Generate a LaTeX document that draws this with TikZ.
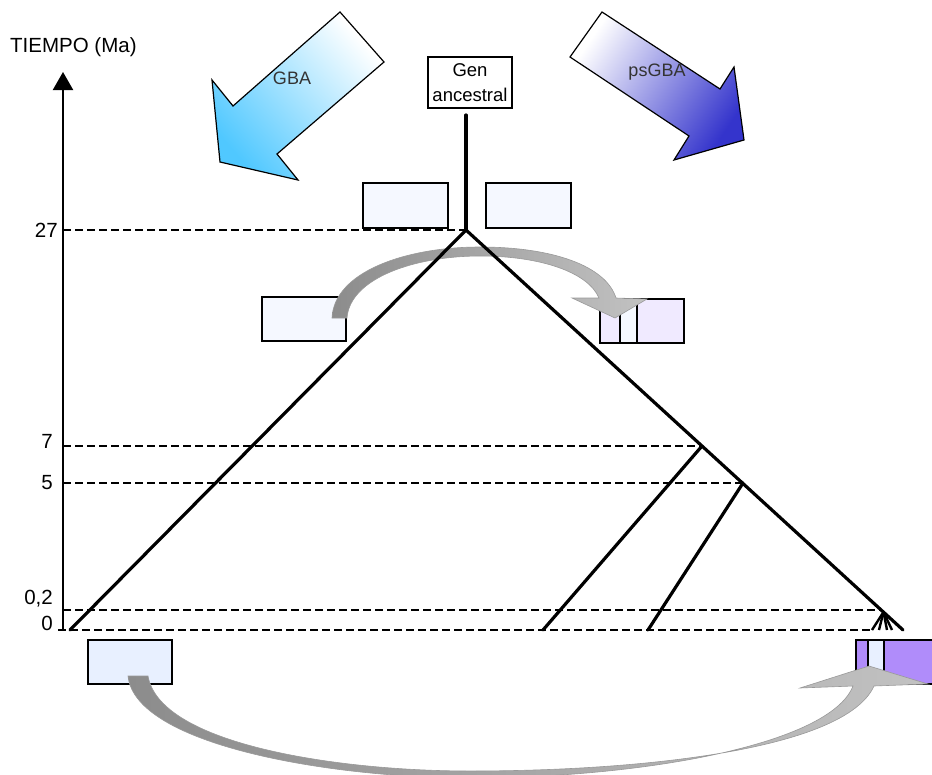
\documentclass[tikz,border=0pt]{standalone}
\usepackage{fontspec}
\setmainfont{Liberation Sans}
\usetikzlibrary{arrows.meta}
\usetikzlibrary{positioning}

\definecolor{boxpale}{HTML}{F5F8FF}
\definecolor{boxblue}{HTML}{E8F0FF}
\definecolor{boxlila}{HTML}{F0EAFF}
\definecolor{boxpurple}{HTML}{B08CFA}
\definecolor{gbacyan}{HTML}{50C8FF}
\definecolor{psblue}{HTML}{3434CC}
\definecolor{arrowdark}{HTML}{8C8C8C}
\definecolor{arrowlight}{HTML}{C2C2C2}

\tikzset{
    seqbox/.style={draw=black, line width=1.2pt, fill=boxpale, inner sep=0pt, outer sep=0pt,
        minimum width=84pt, minimum height=45pt, anchor=north west},
    timeline/.style={line width=1.3pt, dash pattern=on 8pt off 4pt},
    branch/.style={line width=3.2pt, line cap=round},
    twig/.style={line width=2.4pt},
    ticklabel/.style={anchor=east, inner sep=0pt, font=\fontsize{20.5}{24}\selectfont},
    bigarrow/.style={draw=black, line width=1.2pt},
    swaparrow/.style={left color=arrowdark, right color=arrowlight, draw=gray!80, line width=0.6pt},
}

\begin{document}
\begin{tikzpicture}[x=1pt,y=-1pt]
        \useasboundingbox (0,0) rectangle (932,774);

        % axis
        \coordinate (axis0) at (63,630);
        \coordinate (axistop) at (63,72);
        \draw[line width=2pt,-{Triangle[length=18pt,width=20pt]}] (axis0) -- (axistop);
        \node[anchor=west, inner sep=0pt, font=\fontsize{20.5}{24}\selectfont] (tiempo) at (10,47) {TIEMPO (Ma)};

        \node[ticklabel] (lab27) at (58,230) {27};
        \node[ticklabel] (lab7) at (53,441) {7};
        \node[ticklabel] (lab5) at (53,483) {5};
        \node[ticklabel] (lab02) at (53,599) {0,2};
        \node[ticklabel] (lab0) at (53,623) {0};

        % tree points
        \coordinate (root) at (466,115);
        \coordinate (apex) at (466,230);
        \coordinate (n7) at (702,446);
        \coordinate (n5) at (743,483);
        \coordinate (n02) at (883.5,612);
        \coordinate (leafA) at (70,630);
        \coordinate (leafB) at (543,630);
        \coordinate (leafC) at (648,630);
        \coordinate (leafD) at (903,630);

        % time lines
        \draw[timeline] (63,230) -- (apex);
        \draw[timeline] (63,446) -- (n7);
        \draw[timeline] (63,483) -- (n5);
        \draw[timeline] (63,610) -- (880,610);
        \draw[timeline] (58,630) -- (872,630);

        % big arrows
        \shadedraw[bigarrow, top color=white, bottom color=gbacyan, shading angle=-49]
        (340,12) -- (384,62) -- (277,154) -- (298,180) -- (220,162) -- (212,80) -- (233,106) -- cycle;
        \node[font=\fontsize{18}{21}\selectfont, text=black!80] (gba) at (292,78) {GBA};

        \shadedraw[bigarrow, top color=white, bottom color=psblue, shading angle=56]
        (602,12) -- (720,89) -- (734,67) -- (744,140) -- (674,160) -- (689,136) -- (570,57) -- cycle;
        \node[font=\fontsize{18}{21}\selectfont, text=black!80] (psgba) at (657,72) {psGBA};

        % gene boxes
        \node[seqbox, fill=white, minimum width=84pt, minimum height=51pt, align=center,
            font=\fontsize{18.5}{25}\selectfont] (ancestor) at (428,57) {Gen\\ancestral};
        \node[seqbox, minimum width=85pt] (gbatop) at (363,183) {};
        \node[seqbox, minimum width=85pt] (pstop) at (486,183) {};
        \node[seqbox, minimum height=44pt] (gbamid) at (262,297) {};
        \node[seqbox, fill=boxlila, minimum width=20pt, minimum height=44pt] (psmidA) at (600,299) {};
        \node[seqbox, minimum width=17pt, minimum height=44pt, right=0pt of psmidA] (psmidB) {};
        \node[seqbox, fill=boxlila, minimum width=47pt, minimum height=44pt, right=0pt of psmidB] (psmidC) {};
        \node[seqbox, fill=boxblue, minimum height=44pt] (gbanow) at (88,640) {};
        \node[seqbox, fill=boxpurple, minimum width=12pt, minimum height=44pt] (psnowA) at (856,640) {};
        \node[seqbox, fill=boxblue, minimum width=16pt, minimum height=44pt, right=0pt of psnowA] (psnowB) {};
        \node[seqbox, fill=boxpurple, minimum width=60pt, minimum height=44pt, right=0pt of psnowB] (psnowC) {};

        % curved arrows
        \shadedraw[swaparrow]
        (332,318) .. controls (334,272) and (405,247) .. (480,247)
        .. controls (553,247) and (606,266) .. (616,298)
        -- (647,299) -- (615,318) -- (572,298) -- (599,298)
        .. controls (588,272) and (540,256) .. (480,256)
        .. controls (415,256) and (350,278) .. (347,318) -- cycle;

        \shadedraw[swaparrow]
        (128,676) .. controls (135,745) and (330,778) .. (470,778)
        .. controls (640,778) and (830,745) .. (853,686)
        -- (800,688) -- (869,666) -- (928,684) -- (874,686)
        .. controls (845,750) and (640,771) .. (470,771)
        .. controls (340,771) and (160,745) .. (148,676) -- cycle;

        % tree
        \draw[branch] (root) -- (apex);
        \draw[branch] (apex) -- (leafA);
        \draw[branch] (apex) -- (leafD);
        \draw[branch] (n7) -- (leafB);
        \draw[branch] (n5) -- (leafC);
        \draw[twig] (n02) -- (872,630);
        \draw[twig] (n02) -- (879,630);
        \draw[twig] (n02) -- (887,630);
        \draw[twig] (n02) -- (892,630);
    \end{tikzpicture}
\end{document}
